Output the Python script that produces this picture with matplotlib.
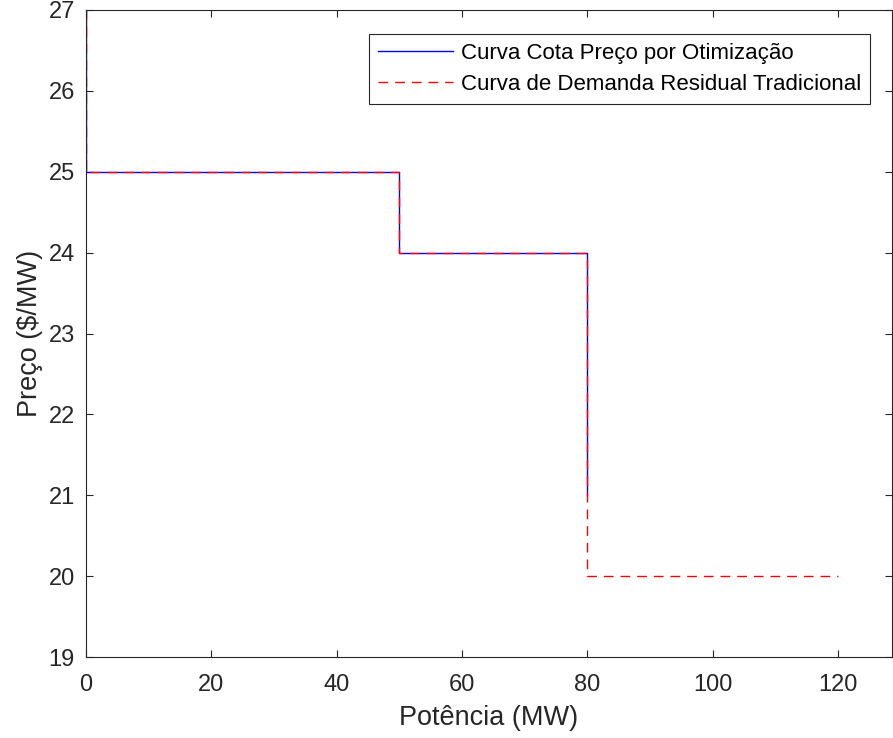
import matplotlib
matplotlib.use("Agg")
import matplotlib.pyplot as plt

plt.rcParams['font.family'] = ['Liberation Sans', 'DejaVu Sans']

# Optimization curve (blue)
opt_x = [0, 0, 50, 50, 80, 80]
opt_y = [27, 25, 25, 24, 24, 21]
# Traditional residual demand curve (red dashed)
trad_x = [0, 0, 50, 50, 80, 80, 120]
trad_y = [27, 25, 25, 24, 24, 20, 20]

labels = ['Curva Cota Preço por Otimização', 'Curva de Demanda Residual Tradicional']
x_ticks = [0, 20, 40, 60, 80, 100, 120]
y_ticks = [19, 20, 21, 22, 23, 24, 25, 26, 27]

fig = plt.figure(figsize=(8.93, 7.38), dpi=100)
ax = fig.add_axes([86/893, 1 - 657/738, (892 - 86)/893, (657 - 10)/738])
ax.plot(opt_x, opt_y, color='#0000ff', lw=1.0, label=labels[0])
ax.plot(trad_x, trad_y, color='#ff0000', lw=1.0, ls=(0, (7, 5)), label=labels[1])

ax.set_xlim(0, 128.6)
ax.set_ylim(19, 27)
ax.set_xticks(x_ticks)
ax.set_yticks(y_ticks)
ax.tick_params(direction='in', length=5, width=0.8, top=True, right=True,
               labelsize=17, colors='#262626')
ax.tick_params(axis='x', pad=12)
ax.tick_params(axis='y', pad=8)
for s in ax.spines.values():
    s.set_color('#262626')
    s.set_linewidth(0.8)
ax.set_xlabel('Potência (MW)', fontsize=19.5, color='#262626', labelpad=7)
ax.set_ylabel('Preço ($/MW)', fontsize=19.5, color='#262626', labelpad=4)
leg = ax.legend(loc='upper right', fontsize=16, frameon=True, fancybox=False,
                edgecolor='#262626', framealpha=1, borderaxespad=0.0,
                bbox_to_anchor=((870 - 86)/806, 1 - (34 - 10)/647),
                handlelength=3.4, handletextpad=0.35, borderpad=0.4,
                labelspacing=0.45)
leg.get_frame().set_linewidth(0.8)
fig.savefig('out.png', dpi=100)
